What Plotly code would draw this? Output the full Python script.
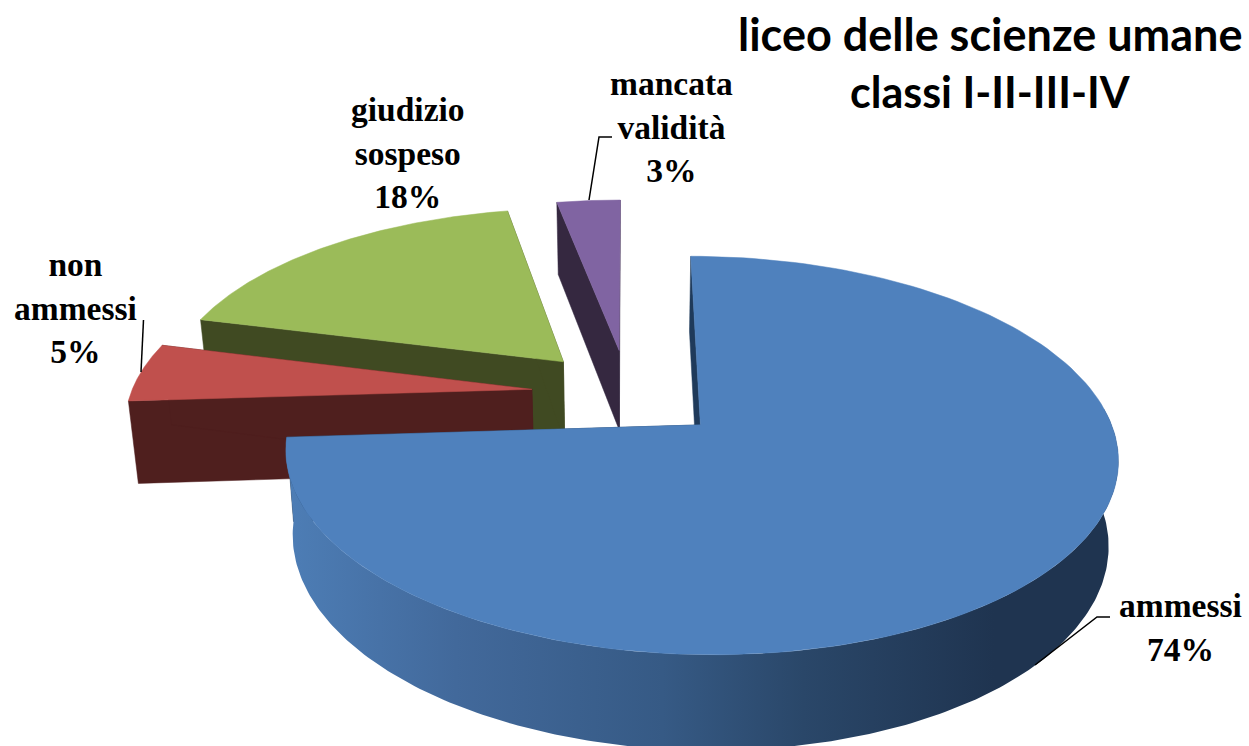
import numpy as np
import plotly.graph_objects as go

# ---- data
categories = ["ammessi", "non ammessi", "giudizio sospeso", "mancata validità"]
values = [74, 5, 18, 3]
label_lines = ["ammessi<br>74%", "non<br>ammessi<br>5%", "giudizio<br>sospeso<br>18%", "mancata<br>validità<br>3%"]
title_lines = ["liceo delle scienze umane", "classi I-II-III-IV"]

top_colors = ["#4f81bd", "#c0504d", "#9bbb59", "#8064a2"]
wall_colors = ["#1f3a5a", "#4f1f1e", "#404a22", "#352840"]

# ---- view of the tilted pie
CX, CY = 628.0, 393.5     # pie centre on the page
RX, RY = 401.0, 185.0     # radii
PERSP = 0.15              # depth perspective
EXPLODE = 0.2415          # slice explosion
START = 90.0              # degrees of first slice edge


def project(x, y):
    s = 1.0 / (1.0 + PERSP * y)
    return CX + RX * x * s, CY - RY * y * s


def drop(px, py):
    # same point on the lower face of the disc
    h = 72 + 0.052 * (py - 200)
    return CX + (px - CX) * 0.98, py + h


def arc(theta1, theta2, ox, oy, n=160):
    t = np.radians(np.linspace(theta1, theta2, n))
    return project(ox + np.cos(t), oy + np.sin(t))


def poly(x, y, color, name, **kw):
    return go.Scatter(x=np.r_[x, x[0]], y=np.r_[y, y[0]], mode="lines", fill="toself",
                      fillcolor=color, line=dict(color=color, width=0.5),
                      hoverinfo="skip", showlegend=False, name=name, **kw)


fig = go.Figure()
total = sum(values)
edges = START - np.r_[0, np.cumsum(values)] / total * 360.0

for i in [3, 2, 1, 0]:  # back to front
    t1, t2 = edges[i], edges[i + 1]
    mid = np.radians((t1 + t2) / 2)
    ox, oy = EXPLODE * np.cos(mid), EXPLODE * np.sin(mid)
    ax, ay = project(ox, oy)
    arc_x, arc_y = arc(t1, t2, ox, oy)

    # cut faces
    for ex, ey in [(arc_x[0], arc_y[0]), (arc_x[-1], arc_y[-1])]:
        qx = np.array([ex, ax])
        qy = np.array([ey, ay])
        bx, by = drop(qx, qy)
        fig.add_trace(poly(np.r_[qx, bx[::-1]], np.r_[qy, by[::-1]], wall_colors[i], categories[i] + " cut"))

    # outer wall of the big slice, shaded left to right
    if i == 0:
        wx, wy = arc(t2 + 360, 365, ox, oy, 220)
        bx, by = drop(wx, wy)
        fig.add_trace(go.Scatter(
            x=np.r_[wx, bx[::-1], wx[0]], y=np.r_[wy, by[::-1], wy[0]], mode="lines",
            fill="toself", line=dict(width=0), hoverinfo="skip", showlegend=False,
            name=categories[i] + " wall",
            fillgradient=dict(type="horizontal", start=290, stop=1118, colorscale=[
                [0, "#4d7db5"], [0.2, "#42699b"], [0.45, "#365a85"], [0.62, "#2a4769"],
                [0.85, "#1f3450"], [1, "#1f3450"]])))

    # top face
    fig.add_trace(poly(np.r_[ax, arc_x], np.r_[ay, arc_y], top_colors[i], categories[i]))

# ---- leader lines
leaders = [([1110, 1097, 1035], [617, 617, 665]),
           ([143.5, 141], [320, 372]),
           ([612, 599, 589], [137, 137, 200])]
for lx, ly in leaders:
    fig.add_trace(go.Scatter(x=lx, y=ly, mode="lines", line=dict(color="black", width=1.5),
                             hoverinfo="skip", showlegend=False))

# ---- labels
label_pos = [(1180, 627), (75, 308), (408, 153), (671, 127)]
for txt, (lx, ly) in zip(label_lines, label_pos):
    fig.add_annotation(x=lx, y=ly, text="<b>" + txt + "</b>", showarrow=False, xanchor="center",
                       yanchor="middle", align="center",
                       font=dict(family="Liberation Serif", size=33.5, color="black"))
for txt, ly, sz in zip(title_lines, [34, 91], [45, 43]):
    fig.add_annotation(x=990, y=ly, text="<b>" + txt + "</b>", showarrow=False, xanchor="center",
                       yanchor="middle", font=dict(family="Lato", size=sz, color="black"))

fig.update_layout(width=1249, height=746, margin=dict(l=0, r=0, t=0, b=0),
                  paper_bgcolor="white", plot_bgcolor="white", showlegend=False,
                  xaxis=dict(range=[0, 1249], visible=False, fixedrange=True),
                  yaxis=dict(range=[746, 0], visible=False, fixedrange=True))

fig.write_html("out.html", config={"displayModeBar": False},
               post_script="document.body.style.margin='0';")
